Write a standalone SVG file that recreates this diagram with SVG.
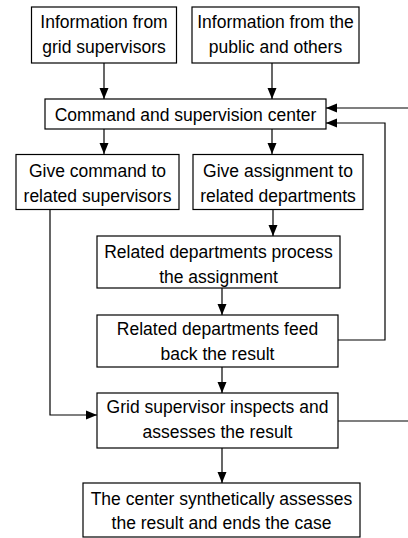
<svg xmlns="http://www.w3.org/2000/svg" width="408" height="538" viewBox="0 0 408 538">
<style>
.box{fill:#fff;stroke:#000;stroke-width:1.2}
.t{font-family:"Liberation Sans",Arial,sans-serif;font-size:17.5px;fill:#000;text-anchor:middle}
.c{fill:none;stroke:#000;stroke-width:1.2}
</style>
<defs>
<marker id="ah" markerUnits="userSpaceOnUse" markerWidth="11" markerHeight="11" viewBox="0 0 11 11" refX="11" refY="5.5" orient="auto">
<path d="M0,1 L11,5.5 L0,10 Z" fill="#000"/>
</marker>
</defs>
<rect width="408" height="538" fill="#fff"/>
<g id="connectors">
<path class="c" d="M104,63 V99" marker-end="url(#ah)"/>
<path class="c" d="M272,63 V99" marker-end="url(#ah)"/>
<path class="c" d="M104,129 V154" marker-end="url(#ah)"/>
<path class="c" d="M272,129 V154" marker-end="url(#ah)"/>
<path class="c" d="M273,210 V236" marker-end="url(#ah)"/>
<path class="c" d="M222,288 V315" marker-end="url(#ah)"/>
<path class="c" d="M222,367 V393" marker-end="url(#ah)"/>
<path class="c" d="M222,448 V483" marker-end="url(#ah)"/>
<path class="c" d="M50,210 V415 H97" marker-end="url(#ah)"/>
<path class="c" d="M338,340 H385 V123 H326" marker-end="url(#ah)"/>
<path class="c" d="M338,421 H412 V108 H326" marker-end="url(#ah)"/>
</g>
<g id="n1"><rect class="box" x="31.5" y="7" width="145" height="56"/><text class="t" x="104" y="28">Information from</text><text class="t" x="104" y="53">grid supervisors</text></g>
<g id="n2"><rect class="box" x="192" y="7" width="167" height="56"/><text class="t" x="275.5" y="28">Information from the</text><text class="t" x="275.5" y="53">public and others</text></g>
<g id="n3"><rect class="box" x="45" y="99" width="281" height="30"/><text class="t" x="185.5" y="121">Command and supervision center</text></g>
<g id="n4"><rect class="box" x="16" y="154.5" width="163" height="55"/><text class="t" x="97.5" y="177">Give command to</text><text class="t" x="97.5" y="202">related supervisors</text></g>
<g id="n5"><rect class="box" x="193" y="154.5" width="170" height="55"/><text class="t" x="278" y="177">Give assignment to</text><text class="t" x="278" y="202">related departments</text></g>
<g id="n6"><rect class="box" x="97" y="236" width="243" height="52"/><text class="t" x="218.5" y="258">Related departments process</text><text class="t" x="218.5" y="283">the assignment</text></g>
<g id="n7"><rect class="box" x="97" y="315" width="241" height="52"/><text class="t" x="217.5" y="335">Related departments feed</text><text class="t" x="217.5" y="360">back the result</text></g>
<g id="n8"><rect class="box" x="97" y="393" width="241" height="55"/><text class="t" x="217.5" y="413">Grid supervisor inspects and</text><text class="t" x="217.5" y="438">assesses the result</text></g>
<g id="n9"><rect class="box" x="83" y="483" width="277" height="54"/><text class="t" x="221.5" y="505">The center synthetically assesses</text><text class="t" x="221.5" y="529">the result and ends the case</text></g>
</svg>
